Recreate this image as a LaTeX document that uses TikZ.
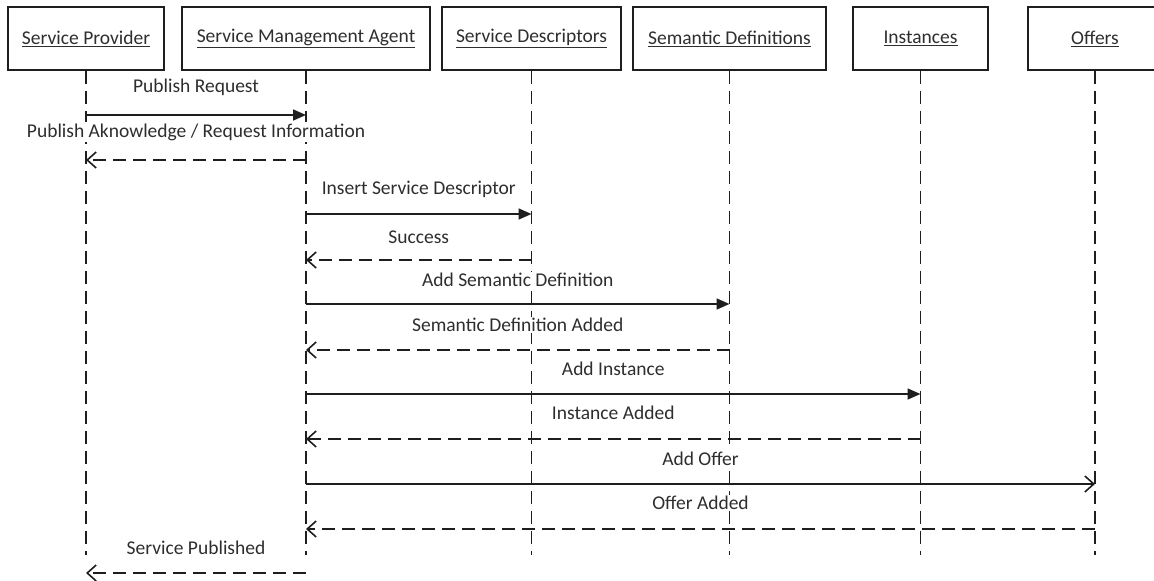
\documentclass[tikz,border=0pt]{standalone}
\usepackage{fontspec}
\setmainfont{Carlito}
\usetikzlibrary{arrows.meta,calc}

\definecolor{ink}{HTML}{1E1E1E}
\definecolor{txt}{HTML}{2E2E2E}

% one message between two lifelines: style, from, to, arrow y, label y, text
\newcommand\sendmsg[6]{%
  \draw[#1] (#2 |- 0,#4) -- (#3 |- 0,#4);
  \path (#2.center) -- (#3.center) coordinate[midway] (mid);
  \node[lbl] at (mid |- 0,#5) {#6};}

\begin{document}
\begin{tikzpicture}[x=1pt,y=-1pt,
  actor/.style={draw=ink, line width=1.8pt, minimum height=63pt, inner sep=0pt,
    font=\fontsize{19.5}{22}\selectfont, text=txt},
  lifeline/.style={draw=ink, line width=1.7pt, dash pattern=on 13pt off 7pt},
  lbl/.style={font=\fontsize{19.5}{22}\selectfont, text=txt, inner sep=1.5pt, fill=white},
  call/.style={draw=ink, line width=1.7pt, -{Triangle[length=13pt,width=11pt]}},
  callopen/.style={draw=ink, line width=1.7pt, -{Straight Barb[length=9pt,width=16pt,line width=1.6pt]}},
  reply/.style={draw=ink, line width=1.7pt, dash pattern=on 13pt off 7pt,
    -{Straight Barb[length=9pt,width=16pt,line width=1.6pt]}},
]
\useasboundingbox (0,0) rectangle (1154,581);

% participants
\node[actor, minimum width=156pt] (sp)  at (86,38.5)   {\raisebox{-2pt}{\underline{Service Provider}}};
\node[actor, minimum width=248pt] (sma) at (306,38.5)  {\raisebox{-2pt}{\underline{Service Management Agent}}};
\node[actor, minimum width=179pt] (sd)  at (531.5,38.5) {\raisebox{-2pt}{\underline{Service Descriptors}}};
\node[actor, minimum width=193pt] (sem) at (729.5,38.5) {\raisebox{-2pt}{\underline{Semantic Definitions}}};
\node[actor, minimum width=135pt] (ins) at (920.5,38.5) {\raisebox{-2pt}{\underline{Instances}}};
\node[actor, minimum width=134pt] (off) at (1095,38.5) {\raisebox{-2pt}{\underline{Offers}}};

% lifelines
\foreach \p in {sp,sma,sd,sem,ins,off}{
  \coordinate (\p-end) at (\p |- 0,555);
  \draw[lifeline] (\p.south) -- (\p-end);
}

% messages
\sendmsg{call}{sp}{sma}{115}{87}{Publish Request}
\sendmsg{reply}{sma}{sp}{160}{132}{Publish Aknowledge / Request Information}
\sendmsg{call}{sma}{sd}{214}{189}{Insert Service Descriptor}
\sendmsg{reply}{sd}{sma}{260}{237}{Success}
\sendmsg{call}{sma}{sem}{304}{280}{Add Semantic Definition}
\sendmsg{reply}{sem}{sma}{350}{325}{Semantic Definition Added}
\sendmsg{call}{sma}{ins}{394}{369}{Add Instance}
\sendmsg{reply}{ins}{sma}{439}{413}{Instance Added}
\sendmsg{callopen}{sma}{off}{484}{459}{Add Offer}
\sendmsg{reply}{off}{sma}{529}{503}{Offer Added}
\sendmsg{reply}{sma}{sp}{573}{548}{Service Published}
\end{tikzpicture}
\end{document}
